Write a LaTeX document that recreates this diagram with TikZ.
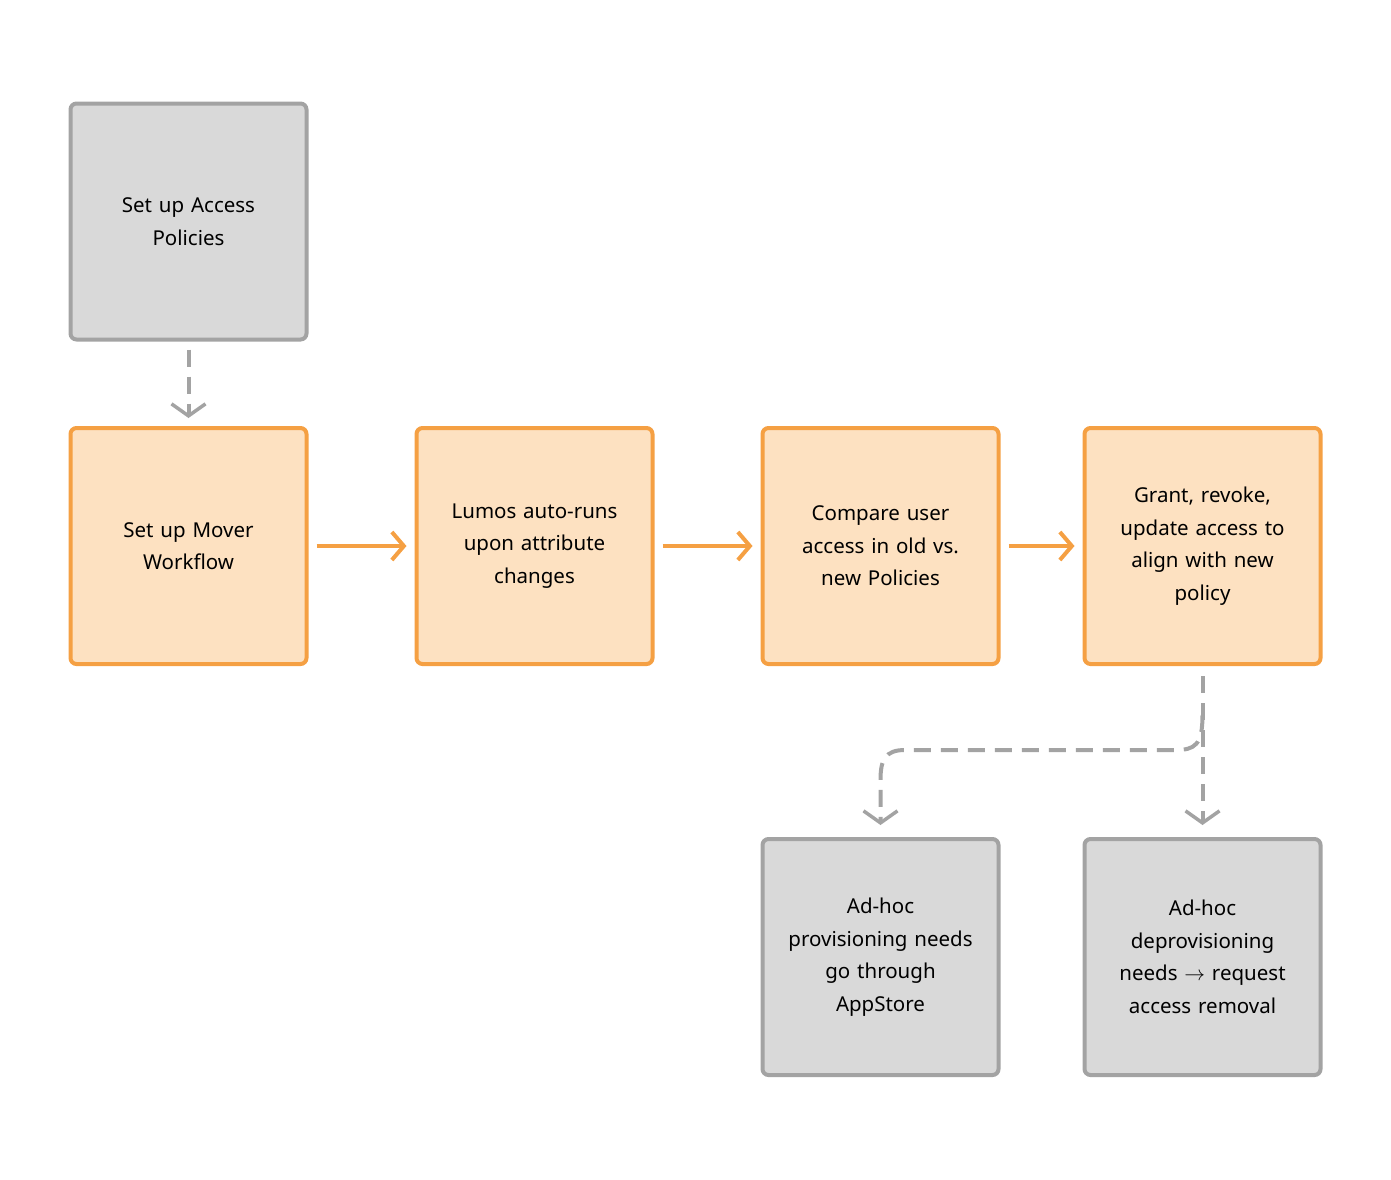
\documentclass[tikz,border=0pt]{standalone}
\usepackage{fontspec}
\setmainfont{Noto Sans}
\usetikzlibrary{arrows.meta}
\definecolor{ofill}{HTML}{FDE1C1}
\definecolor{oline}{HTML}{F5A043}
\definecolor{gfill}{HTML}{D9D9D9}
\definecolor{gline}{HTML}{A3A3A3}
\begin{document}
\begin{tikzpicture}[x=1pt,y=-1pt,
 box/.style={minimum width=236pt,minimum height=236pt,rounded corners=6pt,line width=4pt,align=center,text width=200pt,font=\fontsize{20.5}{32.5}\selectfont},
 obox/.style={box,draw=oline,fill=ofill},
 gbox/.style={box,draw=gline,fill=gfill},
 oarr/.style={draw=oline,line width=4pt,-{Straight Barb[length=12pt,width=28pt,line width=4pt]}},
 garr/.style={draw=gline,line width=4pt,dash pattern=on 17pt off 10pt,-{Straight Barb[length=12pt,width=34pt,line width=3.5pt]}}]
\useasboundingbox (0,0) rectangle (1391,1179);
\node[gbox] (a) at (188.5,221.5) {Set up Access\\Policies};
\node[obox] (b) at (188.5,546) {Set up Mover\\Workflow};
\node[obox] (c) at (534.5,546) {Lumos auto-runs\\upon attribute\\changes};
\node[obox] (d) at (880.5,546) {Compare user\\access in old vs.\\new Policies};
\node[obox] (e) at (1202.5,546) {Grant, revoke,\\update access to\\align with new\\policy};
\node[gbox] (f) at (880.5,957) {Ad-hoc\\provisioning needs\\go through\\AppStore};
\node[gbox] (g) at (1202.5,957) {Ad-hoc\\deprovisioning\\needs $\rightarrow$ request\\access removal};
\draw[garr] ([yshift=-8pt]a.south) -- ([yshift=8pt]b.north);
\draw[oarr] ([xshift=8pt]b.east) -- ([xshift=-8pt]c.west);
\draw[oarr] ([xshift=8pt]c.east) -- ([xshift=-8pt]d.west);
\draw[oarr] ([xshift=8pt]d.east) -- ([xshift=-8pt]e.west);
\draw[garr] ([yshift=-10pt]e.south) -- ([yshift=12pt]g.north);
\coordinate (br) at (1202.5,715);
\draw[garr] (br) .. controls (1202.5,745) and (1195,750) .. (1175,750) -- (905,750) .. controls (885,750) and (880.5,760) .. (880.5,780) -- ([yshift=12pt]f.north);
\end{tikzpicture}
\end{document}
